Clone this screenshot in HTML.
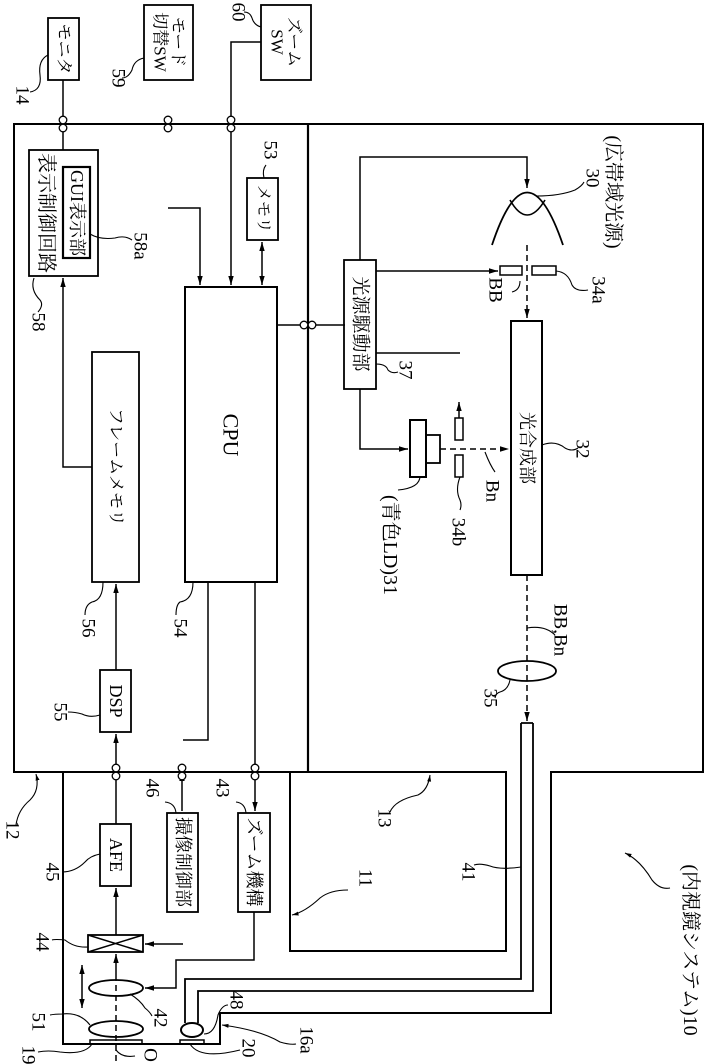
<!DOCTYPE html>
<html><head><meta charset="utf-8"><style>
html,body{margin:0;padding:0;background:#fff;}
svg{display:block;}
text{font-family:"Liberation Serif","Noto Serif CJK SC","Noto Serif CJK JP",serif;fill:#000;}
</style></head><body>
<svg width="710" height="1064" viewBox="0 0 710 1064" xmlns="http://www.w3.org/2000/svg">
<defs>
<marker id="a" viewBox="0 0 10 10" refX="10" refY="5" markerWidth="6" markerHeight="6" orient="auto-start-reverse"><path d="M0,2 L10,5 L0,8 z" fill="#000"/></marker>
</defs>
<g fill="none" stroke="#000" stroke-width="1.5">
<rect x="14" y="124" width="294" height="648" stroke-width="2"/>
<path d="M308,124 H703 V772 H551 V1013 H220 V1044 H63 V772 H308" stroke-width="2"/>
<path d="M308,124 V772" stroke-width="2.2"/>
<rect x="290" y="772" width="216" height="179" stroke-width="2"/>
<path d="M521,723 V979 H185 V1023 M533,723 V991 H198 V1023 M521,723 H533" stroke-width="1.8"/>
<ellipse cx="192" cy="1030" rx="11" ry="7" stroke-width="2"/>
<rect x="90" y="1040" width="52" height="4"/>
<rect x="180" y="1040" width="24" height="4"/>
<rect x="48" y="18" width="31" height="62" stroke-width="1.8"/>
<rect x="144" y="5" width="49" height="75" stroke-width="1.8"/>
<rect x="261" y="5" width="50" height="75" stroke-width="1.8"/>
<path d="M63,80 V124 M261,42 H231 V124"/>
<rect x="29" y="150" width="69" height="126" stroke-width="1.8"/>
<rect x="63" y="167" width="27" height="91" stroke-width="2.2"/>
<rect x="92" y="352" width="47" height="230" stroke-width="1.8"/>
<rect x="185" y="287" width="92" height="295" stroke-width="2"/>
<rect x="247" y="178" width="31" height="62" stroke-width="1.8"/>
<rect x="100" y="670" width="31" height="62" stroke-width="1.8"/>
<path d="M63,124 V150"/>
<path d="M92,467 H63 V278" marker-end="url(#a)"/>
<path d="M231,128 V285" marker-end="url(#a)"/>
<path d="M168,208 H200 V285" marker-end="url(#a)"/>
<path d="M262,242 V285" marker-start="url(#a)" marker-end="url(#a)"/>
<path d="M116,670 V584" marker-end="url(#a)"/>
<path d="M277,325 H345"/>
<path d="M208,582 V740 H183"/>
<path d="M255,582 V811" marker-end="url(#a)"/>
<path d="M116,824 V734" marker-end="url(#a)"/>
<path d="M182,772 V811" marker-start="url(#a)"/>
<rect x="100" y="824" width="31" height="62" stroke-width="1.8"/>
<rect x="167" y="813" width="31" height="99" stroke-width="1.8"/>
<rect x="238" y="813" width="32" height="99" stroke-width="1.8"/>
<rect x="88" y="935" width="55" height="17" stroke-width="1.8"/>
<path d="M88,935 L143,952 M88,952 L143,935"/>
<path d="M116,935 V888" marker-end="url(#a)"/>
<path d="M183,944 H145" marker-end="url(#a)"/>
<path d="M116,975 V954" marker-end="url(#a)"/>
<path d="M82,965 V1008" marker-start="url(#a)" marker-end="url(#a)"/>
<ellipse cx="116" cy="988" rx="27" ry="8" stroke-width="1.8"/>
<ellipse cx="116" cy="1029" rx="27" ry="8" stroke-width="1.8"/>
<path d="M116,975 V1064" stroke-dasharray="6,4"/>
<path d="M254,912 V960 H176 V988 H145" marker-end="url(#a)"/>
<rect x="344" y="260" width="32" height="129" stroke-width="1.8"/>
<path d="M360,260 V157 H527 V188" marker-end="url(#a)"/>
<path d="M492,245 Q527,140 563,245" stroke-width="1.8"/>
<path d="M510,200 Q527,230 545,200" stroke-width="1.6"/>
<path d="M376,271 H498" marker-end="url(#a)"/>
<rect x="500" y="266" width="22" height="9"/>
<rect x="532" y="266" width="24" height="9"/>
<path d="M527,245 V318" stroke-dasharray="6,4" marker-end="url(#a)"/>
<rect x="511" y="321" width="31" height="254" stroke-width="2"/>
<path d="M376,353 H460"/>
<path d="M360,389 V449 H408" marker-end="url(#a)"/>
<rect x="410" y="420" width="16" height="57" stroke-width="2"/>
<rect x="426" y="435" width="14" height="28" stroke-width="1.8"/>
<rect x="455" y="418" width="8" height="22"/>
<rect x="455" y="455" width="8" height="22"/>
<path d="M459,418 V402" marker-end="url(#a)"/>
<path d="M440,449 H509" stroke-dasharray="6,4" marker-end="url(#a)"/>
<path d="M527,575 V721" stroke-dasharray="6,4" marker-end="url(#a)"/>
<ellipse cx="527" cy="671" rx="29" ry="10" stroke-width="1.8"/>
<g stroke-width="1.1">
<path d="M48,55 Q38,60 40,75 Q42,90 30,92"/>
<path d="M144,58 Q134,60 132,70 Q128,78 122,78"/>
<path d="M261,27 Q254,25 252,18 Q250,12 244,12"/>
<path d="M264,178 Q262,170 266,165"/>
<path d="M90,234 Q100,240 115,238 Q125,235 132,240"/>
<path d="M34,278 Q30,290 40,300 Q44,305 38,312"/>
<path d="M103,582 Q103,600 92,602 Q85,605 85,615"/>
<path d="M193,582 Q193,600 180,602 Q176,605 176,615"/>
<path d="M100,715 Q90,718 82,714 Q75,712 68,712"/>
<path d="M36,774 Q40,790 30,800 Q18,810 16,825" marker-start="url(#a)"/>
<path d="M100,854 Q90,856 85,862 Q75,872 62,872"/>
<path d="M176,813 Q175,803 165,802"/>
<path d="M246,813 Q245,803 236,802"/>
<path d="M88,947 Q75,948 65,940 Q55,939 52,940"/>
<path d="M130,994 Q140,1000 145,1008 Q150,1012 152,1016"/>
<path d="M90,1025 Q80,1012 62,1014 Q55,1014 50,1015"/>
<path d="M92,1044 Q85,1055 60,1052 Q48,1050 38,1052"/>
<path d="M116,1050 Q122,1058 135,1056"/>
<path d="M190,1044 Q200,1060 240,1050"/>
<path d="M204,1034 Q215,1034 218,1015 Q222,1005 228,1005"/>
<path d="M222,1025 Q260,1030 280,1042 Q290,1045 296,1044" marker-start="url(#a)"/>
<path d="M292,915 Q305,912 320,898 Q330,890 348,890" marker-start="url(#a)"/>
<path d="M521,867 Q500,870 490,866 Q480,863 474,865"/>
<path d="M430,775 Q428,790 418,795 Q395,800 390,812" marker-start="url(#a)"/>
<path d="M625,853 Q640,860 652,880 Q660,890 670,888" marker-start="url(#a)"/>
<path d="M510,680 Q508,690 500,692 Q496,693 495,698"/>
<path d="M527,628 Q545,625 555,635"/>
<path d="M542,445 Q555,440 565,448 Q572,452 578,448"/>
<path d="M460,477 Q455,490 460,500 Q462,505 460,510"/>
<path d="M485,452 Q490,465 495,472"/>
<path d="M420,476 Q420,488 398,490"/>
<path d="M376,364 Q386,364 388,370 Q392,374 398,372"/>
<path d="M556,271 Q568,272 572,285 Q576,292 588,290"/>
<path d="M520,281 Q520,290 512,292"/>
<path d="M536,196 Q560,196 575,190 Q582,186 584,182"/>
</g>
</g>
<g fill="#fff" stroke="#000" stroke-width="1.3">
<circle cx="63" cy="120" r="3.8"/><circle cx="63" cy="128" r="3.8"/>
<circle cx="168" cy="120" r="3.8"/><circle cx="168" cy="128" r="3.8"/>
<circle cx="231" cy="120" r="3.8"/><circle cx="231" cy="128" r="3.8"/>
<circle cx="304" cy="325" r="3.8"/><circle cx="312" cy="325" r="3.8"/>
<circle cx="116" cy="768" r="3.8"/><circle cx="116" cy="776" r="3.8"/>
<circle cx="182" cy="768" r="3.8"/><circle cx="182" cy="776" r="3.8"/>
<circle cx="255" cy="768" r="3.8"/><circle cx="255" cy="776" r="3.8"/>
</g>
<g font-size="19" text-anchor="middle" dominant-baseline="central">
<text transform="translate(64,49) rotate(90)" font-size="17">モニタ</text>
<text transform="translate(178,42) rotate(90)" font-size="17">モード</text>
<text transform="translate(160,42) rotate(90)" font-size="17">切替SW</text>
<text transform="translate(294,42) rotate(90)" font-size="17">ズーム</text>
<text transform="translate(277,42) rotate(90)" font-size="17">SW</text>
<text transform="translate(46,213) rotate(90)" font-size="20">表示制御回路</text>
<text transform="translate(77,213) rotate(90)" font-size="18">GUI表示部</text>
<text transform="translate(263,209) rotate(90)" font-size="16">メモリ</text>
<text transform="translate(116,467) rotate(90)" font-size="17">フレームメモリ</text>
<text transform="translate(231,435) rotate(90)" font-size="22">CPU</text>
<text transform="translate(116,701) rotate(90)" font-size="18">DSP</text>
<text transform="translate(116,855) rotate(90)" font-size="18">AFE</text>
<text transform="translate(183,862) rotate(90)" font-size="18">撮像制御部</text>
<text transform="translate(254,862) rotate(90)" font-size="18">ズーム機構</text>
<text transform="translate(360,324) rotate(90)" font-size="19">光源駆動部</text>
<text transform="translate(527,448) rotate(90)" font-size="18">光合成部</text>
<text transform="translate(22,95) rotate(90)">14</text>
<text transform="translate(118,78) rotate(90)">59</text>
<text transform="translate(238,12) rotate(90)">60</text>
<text transform="translate(270,150) rotate(90)">53</text>
<text transform="translate(140,246) rotate(90)">58a</text>
<text transform="translate(38,322) rotate(90)">58</text>
<text transform="translate(88,628) rotate(90)">56</text>
<text transform="translate(180,628) rotate(90)">54</text>
<text transform="translate(60,712) rotate(90)">55</text>
<text transform="translate(12,830) rotate(90)">12</text>
<text transform="translate(52,872) rotate(90)">45</text>
<text transform="translate(152,788) rotate(90)">46</text>
<text transform="translate(222,788) rotate(90)">43</text>
<text transform="translate(42,942) rotate(90)">44</text>
<text transform="translate(38,1022) rotate(90)">51</text>
<text transform="translate(160,1018) rotate(90)">42</text>
<text transform="translate(28,1055) rotate(90)">19</text>
<text transform="translate(150,1055) rotate(90)">O</text>
<text transform="translate(248,1048) rotate(90)">20</text>
<text transform="translate(236,1000) rotate(90)">48</text>
<text transform="translate(306,1040) rotate(90)">16a</text>
<text transform="translate(365,878) rotate(90)">11</text>
<text transform="translate(468,872) rotate(90)">41</text>
<text transform="translate(384,818) rotate(90)">13</text>
<text transform="translate(690,950) rotate(90)" font-size="20">(内視鏡システム)10</text>
<text transform="translate(490,698) rotate(90)">35</text>
<text transform="translate(560,630) rotate(90)">BB,Bn</text>
<text transform="translate(582,449) rotate(90)">32</text>
<text transform="translate(458,532) rotate(90)">34b</text>
<text transform="translate(492,491) rotate(90)">Bn</text>
<text transform="translate(390,545) rotate(90)" font-size="20">(青色LD)31</text>
<text transform="translate(405,370) rotate(90)">37</text>
<text transform="translate(598,290) rotate(90)">34a</text>
<text transform="translate(495,290) rotate(90)">BB</text>
<text transform="translate(592,178) rotate(90)">30</text>
<text transform="translate(613,192) rotate(90)" font-size="20">(広帯域光源)</text>
</g>
</svg>
</body></html>
